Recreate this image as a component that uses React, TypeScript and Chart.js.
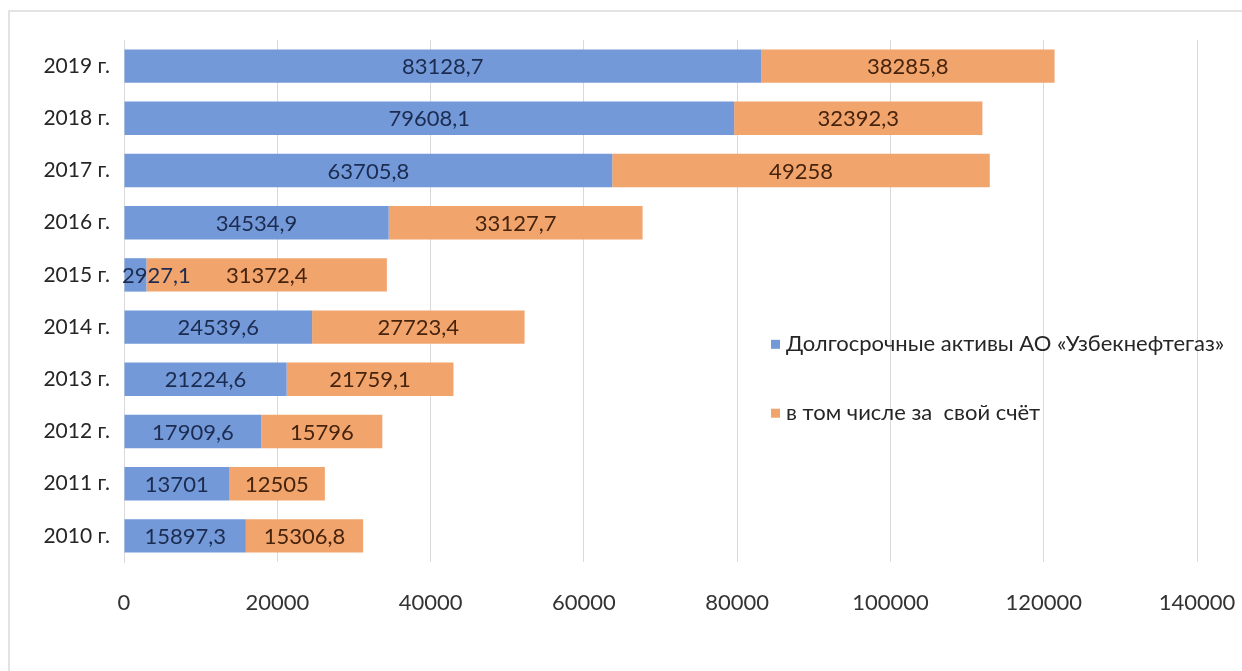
import React, { useEffect, useRef } from "react";
import { Chart, registerables } from "chart.js";

Chart.register(...registerables);

const categories = ["2010 г.", "2011 г.", "2012 г.", "2013 г.", "2014 г.", "2015 г.", "2016 г.", "2017 г.", "2018 г.", "2019 г."];
const longTermAssets = [15897.3, 13701, 17909.6, 21224.6, 24539.6, 2927.1, 34534.9, 63705.8, 79608.1, 83128.7];
const ownFunds = [15306.8, 12505, 15796, 21759.1, 27723.4, 31372.4, 33127.7, 49258, 32392.3, 38285.8];
const seriesNames = ["Долгосрочные активы АО «Узбекнефтегаз»", "в том числе за  свой счёт"];
const xTicks = [0, 20000, 40000, 60000, 80000, 100000, 120000, 140000];

const BLUE = "#7399d8";
const ORANGE = "#f2a46d";
const LABEL_COLORS = ["#1c2b50", "#45230d"];

const fmt = (v: number) => String(v).replace(".", ",");

const dataLabels = {
  id: "dataLabels",
  afterDatasetsDraw(chart: any) {
    const ctx = chart.ctx;
    const area = chart.chartArea;
    ctx.save();
    ctx.font = "22px Lato, 'Open Sans', sans-serif";
    ctx.textBaseline = "middle";
    ctx.textAlign = "center";
    chart.data.datasets.forEach((ds: any, di: number) => {
      const meta = chart.getDatasetMeta(di);
      meta.data.forEach((el: any, i: number) => {
        const p = el.getProps(["x", "y", "base"], true);
        const txt = fmt(ds.data[i]);
        const w = ctx.measureText(txt).width;
        let cx = (p.x + p.base) / 2;
        if (cx - w / 2 < area.left - 2) cx = area.left - 2 + w / 2;
        ctx.fillStyle = LABEL_COLORS[di];
        ctx.fillText(txt, cx, p.y + 1);
      });
    });
    ctx.restore();
  },
};

const customLegend = {
  id: "customLegend",
  afterDraw(chart: any) {
    const ctx = chart.ctx;
    const area = chart.chartArea;
    const x0 = area.left + (area.right - area.left) * 0.603;
    const ys = [area.top + (area.bottom - area.top) * 0.582, area.top + (area.bottom - area.top) * 0.714];
    ctx.save();
    ctx.font = "22px Lato, 'Open Sans', sans-serif";
    ctx.textBaseline = "middle";
    ctx.textAlign = "left";
    chart.data.datasets.forEach((ds: any, di: number) => {
      ctx.fillStyle = ds.backgroundColor;
      ctx.fillRect(x0, ys[di] - 4, 9, 9);
      ctx.fillStyle = "#262626";
      ctx.fillText(ds.label, x0 + 15, ys[di]);
    });
    ctx.restore();
  },
};

export default function App() {
  const ref = useRef<HTMLCanvasElement | null>(null);
  useEffect(() => {
    if (!ref.current) return;
    const chart = new Chart(ref.current, {
      type: "bar",
      data: {
        labels: categories,
        datasets: [
          { label: seriesNames[0], data: longTermAssets, backgroundColor: BLUE, barPercentage: 0.64, categoryPercentage: 1 },
          { label: seriesNames[1], data: ownFunds, backgroundColor: ORANGE, barPercentage: 0.64, categoryPercentage: 1 },
        ],
      },
      options: {
        indexAxis: "y",
        animation: false,
        responsive: true,
        maintainAspectRatio: false,
        layout: { padding: { left: 0, right: 45, top: 40, bottom: 49 } },
        plugins: { legend: { display: false }, tooltip: { enabled: false } },
        scales: {
          x: {
            stacked: true,
            min: 0,
            max: 140000,
            afterBuildTicks: (s: any) => {
              s.ticks = xTicks.map((v) => ({ value: v }));
            },
            afterFit: (s: any) => {
              s.height = 60;
              s.paddingLeft = 0;
              s.paddingRight = 0;
            },
            grid: { color: "#d9d9d9", drawTicks: false, lineWidth: 1 },
            border: { display: false },
            ticks: {
              padding: 28,
              color: "#333333",
              font: { family: "'Liberation Sans Narrow', Lato, sans-serif", size: 22 },
              callback: (v: any) => String(v),
            },
          },
          y: {
            stacked: true,
            reverse: true,
            afterFit: (s: any) => {
              s.width = 124;
              s.paddingTop = 0;
              s.paddingBottom = 0;
            },
            grid: { display: false, drawTicks: false },
            border: { display: true, color: "#d9d9d9" },
            ticks: {
              padding: 14,
              color: "#262626",
              font: { family: "Lato, 'Open Sans', sans-serif", size: 21 },
            },
          },
        },
      },
      plugins: [dataLabels, customLegend],
    });
    return () => chart.destroy();
  }, []);
  return (
    <div style={{ position: "absolute", left: 0, top: 0, width: 1242, height: 671, background: "#fff", overflow: "hidden" }}>
      <div style={{ position: "absolute", left: 8, top: 10, right: 0, bottom: 0, borderTop: "2px solid #e3e3e3", borderLeft: "2px solid #e3e3e3" }} />
      <canvas ref={ref} style={{ position: "absolute", left: 0, top: 0, width: 1242, height: 671 }} />
    </div>
  );
}
